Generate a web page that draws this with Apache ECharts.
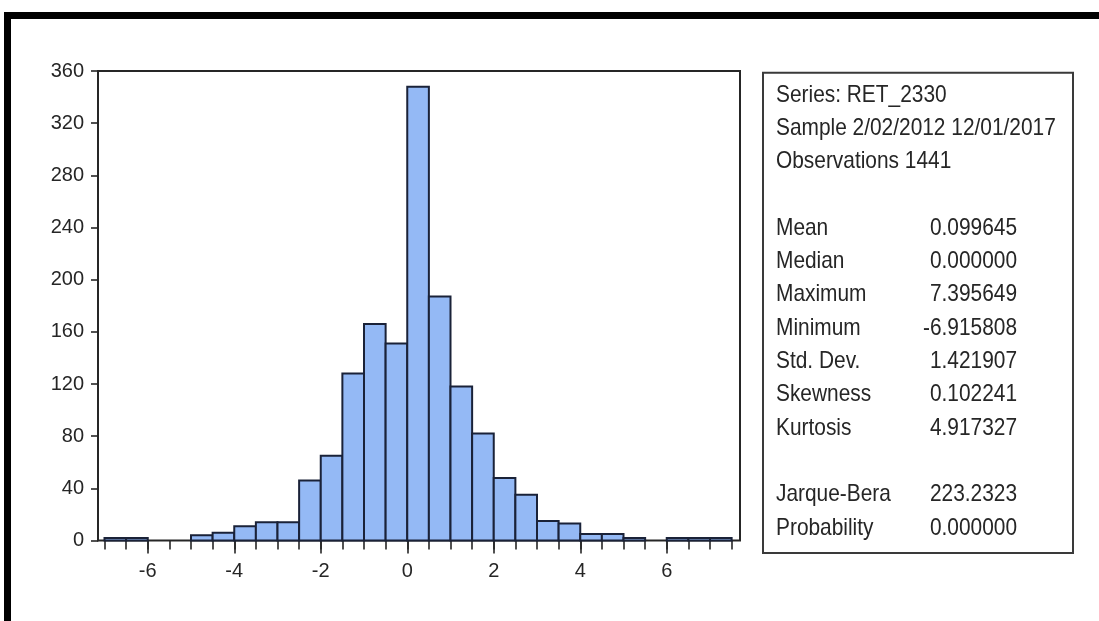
<!DOCTYPE html>
<html>
<head>
<meta charset="utf-8">
<title>RET_2330 histogram</title>
<script src="https://cdn.jsdelivr.net/npm/echarts@6/dist/echarts.min.js"></script>
<style>
  html, body { margin: 0; padding: 0; background: #ffffff; }
  #chart { width: 1099px; height: 621px; }
</style>
</head>
<body>
<div id="chart"></div>
<script>
// Histogram bins: lower edge of each bin and its width
const binLower = [-7, -6.5, -6, -5.5, -5, -4.5, -4, -3.5, -3, -2.5, -2, -1.5, -1, -0.5,
                  0, 0.5, 1, 1.5, 2, 2.5, 3, 3.5, 4, 4.5, 5, 5.5, 6, 6.5, 7];
const binWidth = 0.5;
// Frequency in each bin
const counts = [2, 2, 0, 0, 4, 6, 11, 14, 14, 46, 65, 128, 166, 151,
                348, 187, 118, 82, 48, 35, 15, 13, 5, 5, 2, 0, 2, 2, 2];

// Axis ranges and tick labels
const yTicks = [0, 40, 80, 120, 160, 200, 240, 280, 320, 360];
const xLabelTicks = [-6, -4, -2, 0, 2, 4, 6];

// Descriptive statistics panel
const headerLines = ['Series: RET_2330', 'Sample 2/02/2012 12/01/2017', 'Observations 1441'];
const statNames = ['Mean', 'Median', 'Maximum', 'Minimum', 'Std. Dev.', 'Skewness', 'Kurtosis'];
const statValues = ['0.099645', '0.000000', '7.395649', '-6.915808', '1.421907', '0.102241', '4.917327'];
const testNames = ['Jarque-Bera', 'Probability'];
const testValues = ['223.2323', '0.000000'];

const FONT = '"Liberation Sans", Arial, Helvetica, sans-serif';
const INK = '#262626';

const chart = echarts.init(document.getElementById('chart'), null, { renderer: 'canvas' });

// plot geometry: px per x unit shared by the three overlaid grids
const plotTop = 71, plotHeight = 469.5;
const pxPerUnit = 43.25;
const binLeftPx = 104.5;
const binSpan = (binLower[binLower.length - 1] + binWidth) - binLower[0];
const labLeftPx = binLeftPx + (xLabelTicks[0] - binLower[0]) * pxPerUnit;
const labSpan = xLabelTicks[xLabelTicks.length - 1] - xLabelTicks[0];

// statistics panel text rows (narrow, tall type)
const panelX = 763, panelY = 72.7, panelW = 310, panelH = 480.3;
const rowH = 33.3, firstRowY = 95;
const nameX = 776, valueRightX = 1017;
const textGraphics = [];
function addText(str, x, row, align) {
  textGraphics.push({
    type: 'text',
    x: x,
    y: firstRowY + row * rowH,
    scaleX: 0.87,
    style: {
      text: str,
      fontSize: 24,
      fontFamily: FONT,
      fill: INK,
      align: align,
      verticalAlign: 'middle'
    },
    z: 10
  });
}
headerLines.forEach((t, i) => addText(t, nameX, i, 'left'));
statNames.forEach((t, i) => {
  addText(t, nameX, 4 + i, 'left');
  addText(statValues[i], valueRightX, 4 + i, 'right');
});
testNames.forEach((t, i) => {
  addText(t, nameX, 12 + i, 'left');
  addText(testValues[i], valueRightX, 12 + i, 'right');
});

const option = {
  backgroundColor: '#ffffff',
  animation: false,
  grid: [
    // frame with the count axis
    { left: 98, top: plotTop, width: 642, height: plotHeight, show: true,
      borderColor: INK, borderWidth: 2, backgroundColor: 'transparent' },
    // bins and half-unit ticks
    { left: binLeftPx, top: plotTop, width: binSpan * pxPerUnit, height: plotHeight },
    // labelled ticks
    { left: labLeftPx, top: plotTop, width: labSpan * pxPerUnit, height: plotHeight }
  ],
  xAxis: [
    { gridIndex: 0, type: 'value', show: false, min: 0, max: 1 },
    {
      gridIndex: 1, type: 'value',
      min: binLower[0], max: binLower[binLower.length - 1] + binWidth, interval: binWidth,
      axisLine: { show: false },
      axisTick: { show: true, length: 9, lineStyle: { color: INK, width: 1.6 } },
      axisLabel: { show: false },
      splitLine: { show: false }
    },
    {
      gridIndex: 2, type: 'value',
      min: xLabelTicks[0], max: xLabelTicks[xLabelTicks.length - 1],
      interval: xLabelTicks[1] - xLabelTicks[0],
      axisLine: { show: false },
      axisTick: { show: true, length: 13, lineStyle: { color: INK, width: 1.6 } },
      axisLabel: { show: true, margin: 21, fontSize: 20, fontFamily: FONT, color: INK },
      splitLine: { show: false }
    }
  ],
  yAxis: [
    {
      gridIndex: 0, type: 'value',
      min: yTicks[0], max: yTicks[yTicks.length - 1], interval: yTicks[1] - yTicks[0],
      axisLine: { show: true, lineStyle: { color: INK, width: 2 } },
      axisTick: { show: true, length: 7, lineStyle: { color: INK, width: 1.6 } },
      axisLabel: { show: true, margin: 14, fontSize: 20, fontFamily: FONT, color: INK },
      splitLine: { show: false }
    },
    { gridIndex: 1, type: 'value', show: false,
      min: yTicks[0], max: yTicks[yTicks.length - 1] },
    { gridIndex: 2, type: 'value', show: false,
      min: yTicks[0], max: yTicks[yTicks.length - 1] }
  ],
  series: [
    {
      type: 'custom',
      xAxisIndex: 1,
      yAxisIndex: 1,
      data: binLower.map((lo, i) => [lo, lo + binWidth, counts[i]]),
      encode: { x: [0, 1], y: 2 },
      renderItem: function (params, api) {
        const h = api.value(2);
        if (!h) return null;
        const topLeft = api.coord([api.value(0), h]);
        const bottomRight = api.coord([api.value(1), 0]);
        return {
          type: 'rect',
          shape: {
            x: topLeft[0],
            y: topLeft[1],
            width: bottomRight[0] - topLeft[0],
            height: bottomRight[1] - topLeft[1]
          },
          style: { fill: '#94b9f5', stroke: '#1a2238', lineWidth: 2 }
        };
      },
      z: 3
    }
  ],
  graphic: [
    // heavy black page frame along the top and left
    { type: 'rect', shape: { x: 4, y: 12, width: 1095, height: 7 }, style: { fill: '#000000' }, z: 20 },
    { type: 'rect', shape: { x: 4, y: 12, width: 7, height: 609 }, style: { fill: '#000000' }, z: 20 },
    // statistics panel box
    { type: 'rect', shape: { x: panelX, y: panelY, width: panelW, height: panelH },
      style: { fill: '#ffffff', stroke: '#3a3a3a', lineWidth: 2 }, z: 5 }
  ].concat(textGraphics)
};

chart.setOption(option);
</script>
</body>
</html>
